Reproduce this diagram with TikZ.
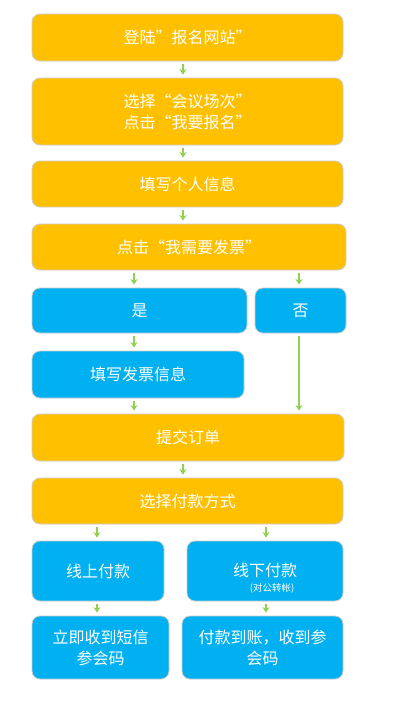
\documentclass[tikz,border=0pt]{standalone}
\usepackage{fontspec}
\setmainfont{Noto Sans CJK SC}
\usetikzlibrary{arrows.meta,calc}
\definecolor{gold}{HTML}{FFC000}
\definecolor{sky}{HTML}{00B0F0}
\definecolor{grn}{HTML}{92D050}
\definecolor{edgegray}{HTML}{CCCCCC}
\begin{document}
\begin{tikzpicture}[x=1pt,y=-1pt,
  base/.style={rounded corners=8pt, draw=edgegray, line width=0.8pt, text=white,
    inner sep=0pt, align=center, font=\fontsize{16}{21}\selectfont},
  gbox/.style={base, fill=gold},
  bbox/.style={base, fill=sky},
  arr/.style={draw=grn, line width=1.5pt, -{Stealth[length=5.5pt,width=7pt]},
    shorten <=3pt, shorten >=3pt},
  small/.style={text=white, inner sep=0pt, font=\fontsize{9.5}{11}\selectfont}]
\useasboundingbox (0,0) rectangle (400,712);
\fill[white] (0,0) rectangle (400,712);

\node[gbox, minimum width=311, minimum height=47] (n1) at (187.5,37.5) {登陆”报名网站”};
\node[gbox, minimum width=311, minimum height=67] (n2) at (187.5,111.5) {选择“会议场次”\\点击“我要报名”};
\node[gbox, minimum width=311, minimum height=46] (n3) at (187.5,184) {填写个人信息};
\node[gbox, minimum width=314, minimum height=46] (n4) at (189,247) {点击“我需要发票”};
\node[bbox, minimum width=215, minimum height=45] (yes) at (139.5,310.5) {是};
\node[bbox, minimum width=91, minimum height=45] (no) at (300.5,310.5) {否};
\node[bbox, minimum width=212, minimum height=47] (fill) at (138,374.5) {填写发票信息};
\node[gbox, minimum width=312, minimum height=47] (sub) at (188,437.5) {提交订单};
\node[gbox, minimum width=311, minimum height=46] (pay) at (187.5,501) {选择付款方式};
\node[bbox, minimum width=132, minimum height=60] (on) at (98,571) {线上付款};
\node[bbox, minimum width=156, minimum height=60] (off) at (265,571) {};
\node[text=white, inner sep=0pt, font=\fontsize{16}{21}\selectfont] (offt) at (265,570) {线下付款};
\node[small] (offs) at (272,588) {(对公转帐)};
\node[bbox, minimum width=137, minimum height=63] (on2) at (100.5,647.5) {立即收到短信\\参会码};
\node[bbox, minimum width=161, minimum height=63] (off2) at (262.5,647.5) {付款到账，收到参\\会码};

\coordinate (xa) at (134,0);
\coordinate (xb) at (299,0);
\coordinate (xc) at (97,0);
\coordinate (xd) at (266,0);
\coordinate (xe) at (183,0);

\draw[arr] (n1.south -| xe) -- (n2.north -| xe);
\draw[arr] (n2.south -| xe) -- (n3.north -| xe);
\draw[arr] (n3.south -| xe) -- (n4.north -| xe);
\draw[arr] (n4.south -| xa) -- (yes.north -| xa);
\draw[arr] (n4.south -| xb) -- (no.north -| xb);
\draw[arr] (yes.south -| xa) -- (fill.north -| xa);
\draw[arr] (fill.south -| xa) -- (sub.north -| xa);
\draw[arr] (no.south -| xb) -- (sub.north -| xb);
\draw[arr] (sub.south -| xe) -- (pay.north -| xe);
\draw[arr] (pay.south -| xc) -- (on.north -| xc);
\draw[arr] (pay.south -| xd) -- (off.north -| xd);
\draw[arr] (on.south -| xc) -- (on2.north -| xc);
\draw[arr] (off.south -| xd) -- (off2.north -| xd);
\end{tikzpicture}
\end{document}
